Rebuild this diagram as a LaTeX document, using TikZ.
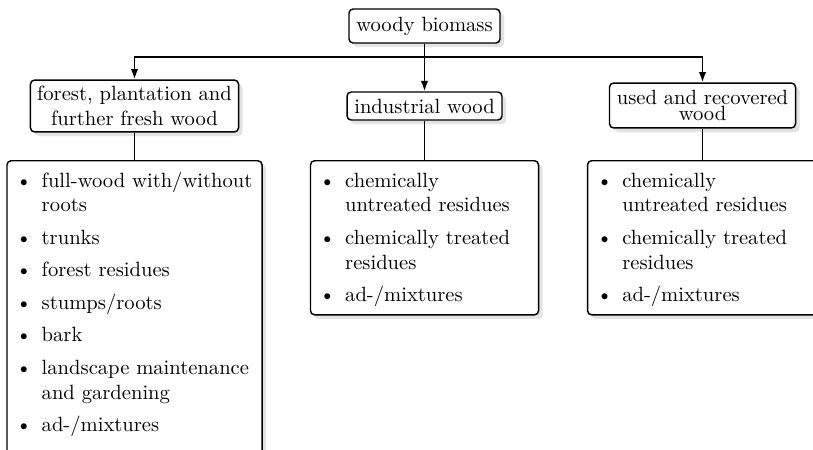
\documentclass[tikz,border=0pt]{standalone}
\usepackage{array}
\usetikzlibrary{arrows.meta,shadows,calc}
\newcolumntype{R}[1]{>{\raggedright\arraybackslash}p{#1}}
\newcommand{\itemgap}{\\\noalign{\vskip3.8pt}}
\tikzset{
  box/.style={draw, line width=0.7pt, rounded corners=2pt, fill=white,
    drop shadow={shadow xshift=2pt, shadow yshift=-2pt, fill=black!22},
    inner sep=0pt, align=center},
  arr/.style={line width=0.8pt, -{Latex[length=5pt,width=3.6pt]}},
  conn/.style={line width=0.5pt},
  listtext/.style={anchor=base west, inner sep=0pt},
}
\begin{document}
\begin{tikzpicture}[x=0.4854pt, y=-0.4854pt]
\useasboundingbox (0,0) rectangle (813,449);

% top
\node[box, minimum width=73.3pt, minimum height=16.5pt] (top) at (424.5,26) {woody biomass};

% second level
\node[box, minimum width=101pt, minimum height=25.2pt] (LU) at (134.5,106)
  {forest, plantation and\\further fresh wood};
\node[box, minimum width=75.2pt, minimum height=13.6pt] (MU) at (424.5,106)
  {industrial wood};
\node[box, minimum width=90.3pt, minimum height=21.8pt] (RU) at (702.5,105.5)
  {used and recovered\\[-4.5pt]wood};

% junction and arrows
\coordinate (j) at (424.5,57);
\draw[arr] (j) -| (LU.north);
\draw[arr] (j) -| (RU.north);
\draw[arr] (top.south) -- (MU.north);

% lower boxes
\node[box, anchor=north, minimum width=123.8pt, minimum height=144.7pt] (L) at (134.5,160) {};
\node[box, anchor=north, minimum width=110.7pt, minimum height=74.8pt] (M) at (424.5,160) {};
\node[box, anchor=north, minimum width=111.6pt, minimum height=74.8pt] (R) at (702.5,160) {};

\draw[conn] (LU.south) -- (L.north);
\draw[conn] (MU.south) -- (M.north);
\draw[conn] (RU.south) -- (R.north);

% list texts
\node[listtext] (Lt) at ($(L.north west)+(9.3,27)$) {%
\begin{tabular}[t]{@{}p{5pt}@{\hspace{7.5pt}}R{105pt}@{}}
\textbullet & full-wood with/without roots\itemgap
\textbullet & trunks\itemgap
\textbullet & forest residues\itemgap
\textbullet & stumps/roots\itemgap
\textbullet & bark\itemgap
\textbullet & landscape maintenance and gardening\itemgap
\textbullet & ad-/mixtures
\end{tabular}};

\node[listtext] (Mt) at ($(M.north west)+(9.3,27)$) {%
\begin{tabular}[t]{@{}p{5pt}@{\hspace{7.5pt}}R{86pt}@{}}
\textbullet & chemically untreated residues\itemgap
\textbullet & chemically treated residues\itemgap
\textbullet & ad-/mixtures
\end{tabular}};

\node[listtext] (Rt) at ($(R.north west)+(9.3,27)$) {%
\begin{tabular}[t]{@{}p{5pt}@{\hspace{7.5pt}}R{86pt}@{}}
\textbullet & chemically untreated residues\itemgap
\textbullet & chemically treated residues\itemgap
\textbullet & ad-/mixtures
\end{tabular}};
\end{tikzpicture}
\end{document}
